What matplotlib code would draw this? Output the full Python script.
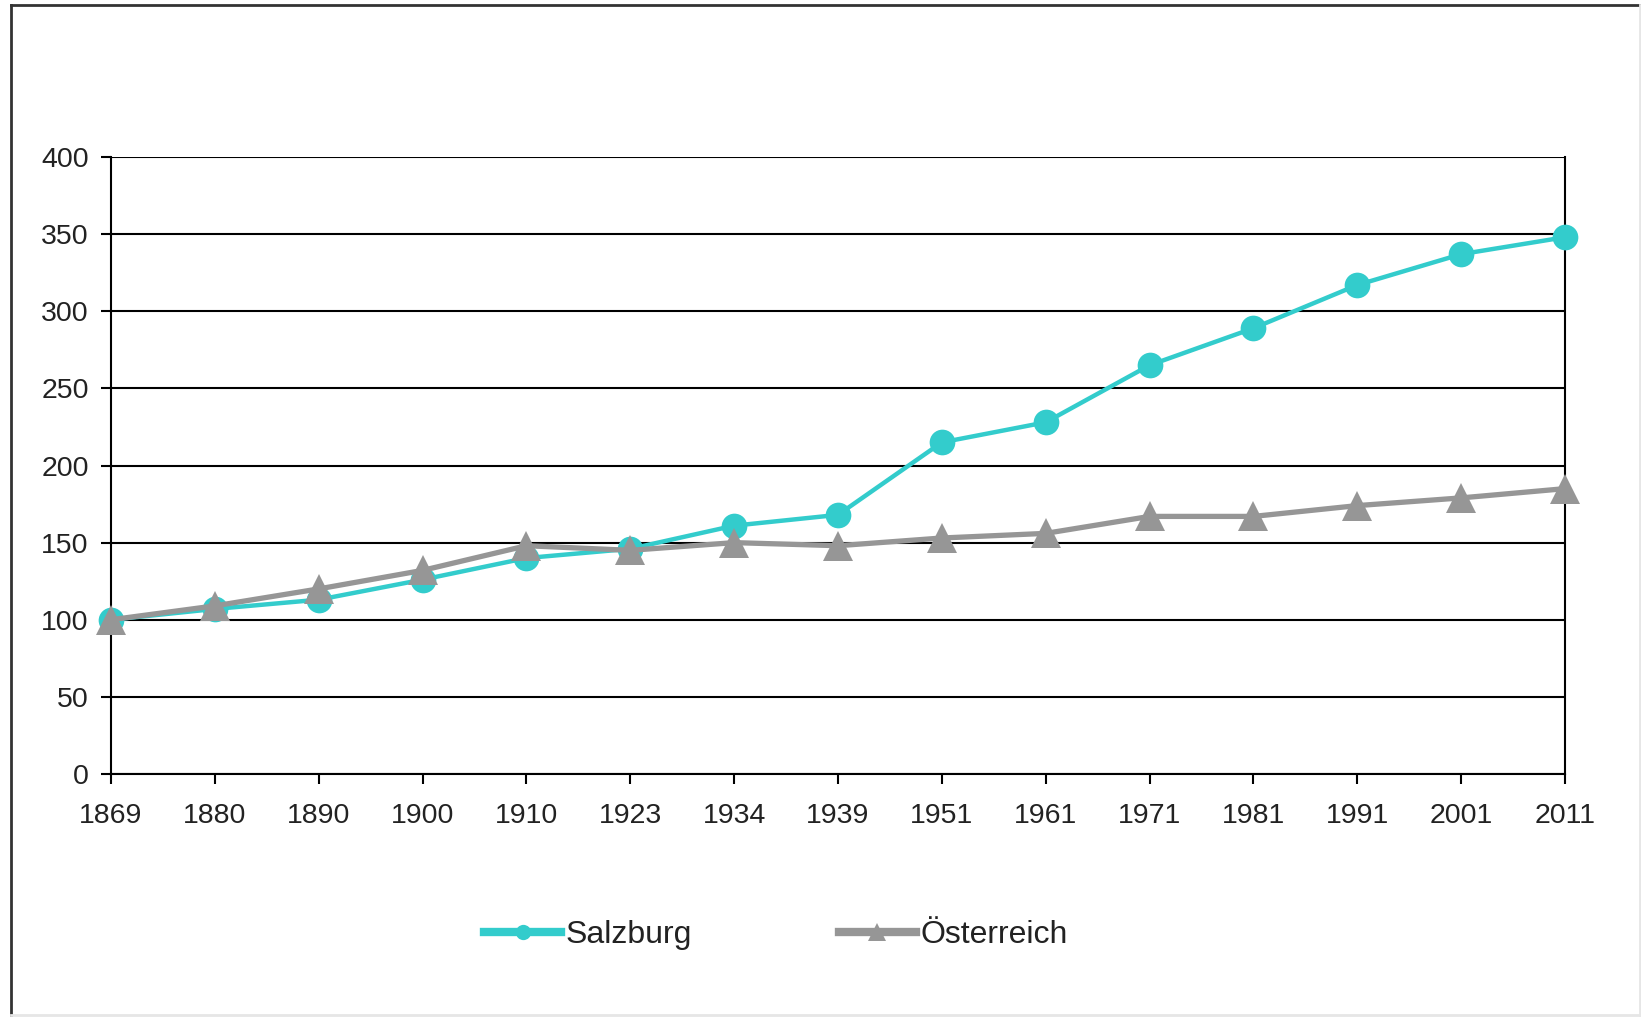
import matplotlib.pyplot as plt
from matplotlib.lines import Line2D

# Bevölkerungsentwicklung, Index 1869 = 100
jahre = ['1869', '1880', '1890', '1900', '1910', '1923', '1934', '1939',
         '1951', '1961', '1971', '1981', '1991', '2001', '2011']
salzburg = [100, 107, 113, 126, 140, 146, 161, 168, 215, 228, 265, 289, 317, 337, 348]
oesterreich = [100, 109, 120, 132, 148, 145, 150, 148, 153, 156, 167, 167, 174, 179, 185]

teal = '#33CCCC'
grau = '#969696'

plt.rcParams['font.family'] = ['Liberation Sans', 'DejaVu Sans']

W, H = 1641, 1019
fig = plt.figure(figsize=(W / 100, H / 100), dpi=100)
ax = fig.add_axes([111 / W, 1 - 774 / H, (1565 - 111) / W, (774 - 157) / H])

x = list(range(len(jahre)))
ax.plot(x, salzburg, color=teal, lw=3.2, marker='o', markersize=18.5,
        markeredgewidth=0, zorder=3, clip_on=False)
ax.plot(x, oesterreich, color=grau, lw=3.8, marker='^', markersize=21,
        markeredgewidth=0, zorder=4, clip_on=False)

ax.set_xlim(0, len(jahre) - 1)
ax.set_ylim(0, 400)
ax.set_yticks(range(0, 401, 50))
ax.set_xticks(x)
ax.set_xticklabels(jahre)

ax.yaxis.grid(True, color='black', lw=1.5)
ax.set_axisbelow(True)
for s in ['left', 'right', 'bottom']:
    ax.spines[s].set_color('black')
    ax.spines[s].set_linewidth(1.5)
ax.spines['top'].set_visible(False)

ax.tick_params(axis='both', direction='out', length=7, width=1.5,
               labelsize=20.5, colors='black', labelcolor='#222222')
ax.tick_params(axis='x', pad=14)
ax.tick_params(axis='y', pad=9)

# Legende unter dem Diagramm
handles = [
    Line2D([], [], color=teal, lw=6, marker='o', markersize=11, markeredgewidth=0),
    Line2D([], [], color=grau, lw=6, marker='^', markersize=13, markeredgewidth=0),
]
fig.legend(handles, ['Salzburg', 'Österreich'], loc='center',
           bbox_to_anchor=(776 / W, 1 - 935 / H), ncol=2, frameon=False,
           fontsize=23, handlelength=2.4, handletextpad=0.15,
           columnspacing=4.6, borderaxespad=0, borderpad=0,
           labelcolor='#222222')

# Rahmen um die Grafik
fig.add_artist(Line2D([11 / W, 11 / W], [1 - 5 / H, 1 - 1015 / H],
                      transform=fig.transFigure, color='#333333', lw=2))
fig.add_artist(Line2D([11 / W, 1640 / W], [1 - 5 / H, 1 - 5 / H],
                      transform=fig.transFigure, color='#333333', lw=2))
fig.add_artist(Line2D([11 / W, 1640 / W], [1 - 1015 / H, 1 - 1015 / H],
                      transform=fig.transFigure, color='#e6e6e6', lw=2))
fig.add_artist(Line2D([1640 / W, 1640 / W], [1 - 5 / H, 1 - 1015 / H],
                      transform=fig.transFigure, color='#e6e6e6', lw=2))

fig.savefig('out.png', dpi=100, facecolor='white')
